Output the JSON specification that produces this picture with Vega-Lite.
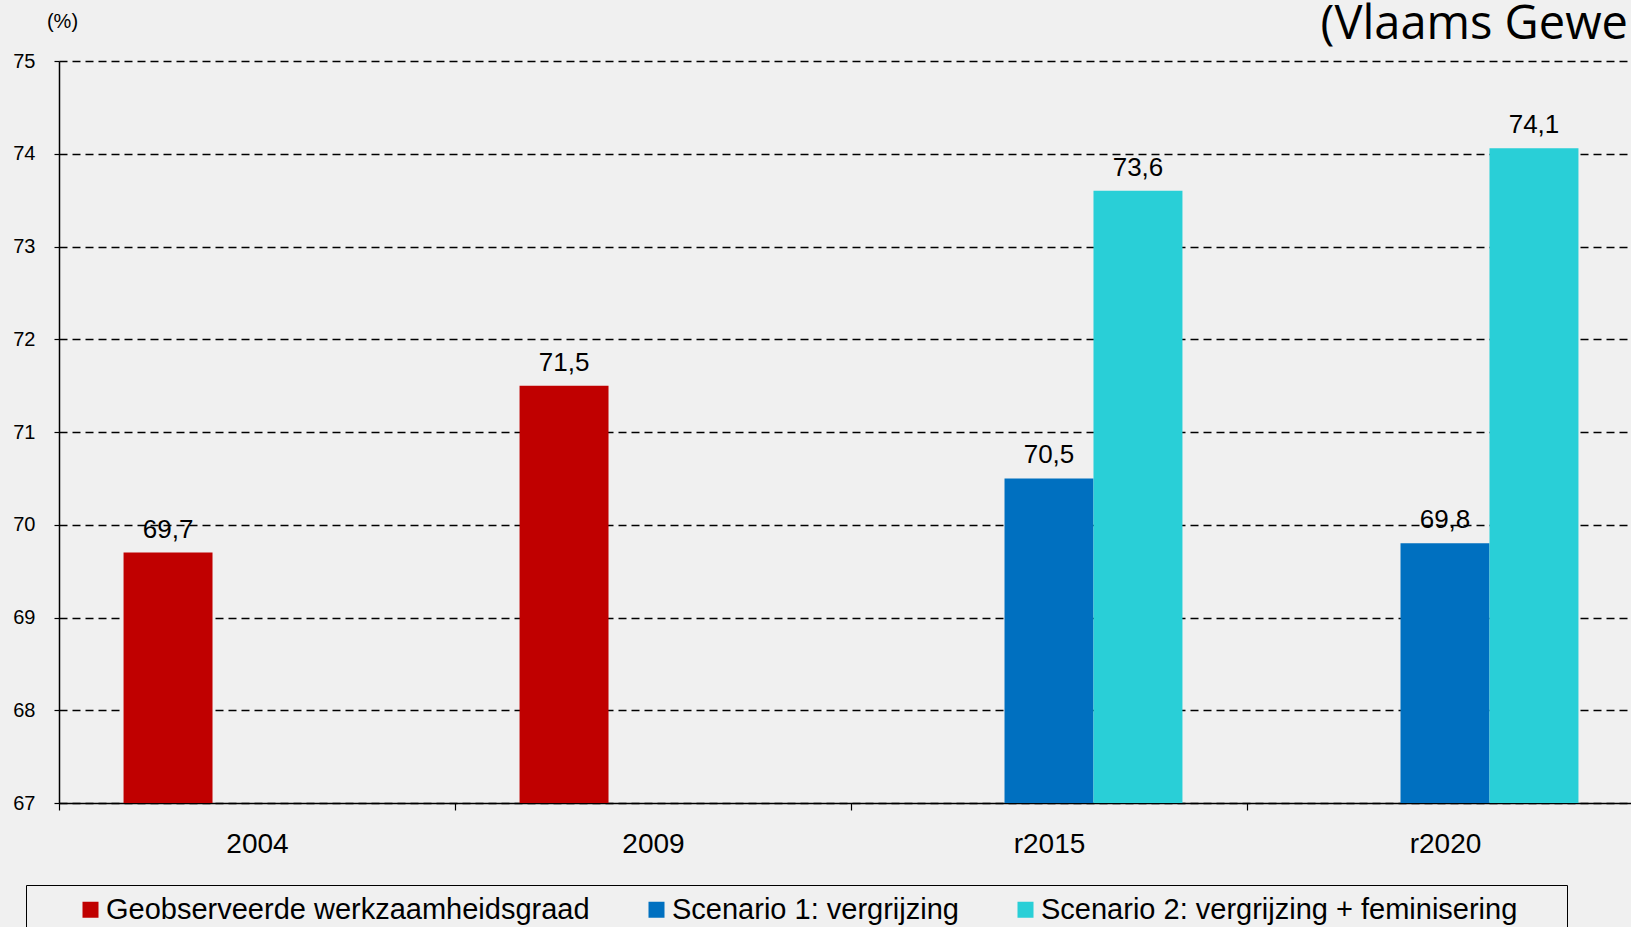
{
  "$schema": "https://vega.github.io/schema/vega-lite/v6.json",
  "autosize": "none",
  "padding": {"left": 59, "top": 61, "right": 0, "bottom": 124},
  "width": 1572,
  "height": 742,
  "background": "#f0f0f0",
  "title": {
    "text": "(Vlaams Gewe",
    "anchor": "end",
    "frame": "group",
    "font": "Open Sans",
    "fontSize": 47,
    "fontWeight": "normal",
    "color": "#000000",
    "baseline": "alphabetic",
    "offset": 0,
    "dy": 75,
    "dx": -3
  },
  "data": {
    "values": [
      {"jaar": "2004", "reeks": "Geobserveerde werkzaamheidsgraad", "waarde": 69.7},
      {"jaar": "2009", "reeks": "Geobserveerde werkzaamheidsgraad", "waarde": 71.5},
      {"jaar": "r2015", "reeks": "Scenario 1: vergrijzing", "waarde": 70.5},
      {"jaar": "r2015", "reeks": "Scenario 2: vergrijzing + feminisering", "waarde": 73.6},
      {"jaar": "r2020", "reeks": "Scenario 1: vergrijzing", "waarde": 69.8},
      {"jaar": "r2020", "reeks": "Scenario 2: vergrijzing + feminisering", "waarde": 74.06}
    ]
  },
  "encoding": {
    "x": {
      "field": "jaar",
      "type": "nominal",
      "sort": ["2004", "2009", "r2015", "r2020"],
      "scale": {"range": [0, 1584], "paddingInner": 0.326, "paddingOuter": 0.163},
      "axis": {
        "title": null,
        "labelAngle": 0,
        "labelFont": "Liberation Sans",
        "labelFontSize": 28,
        "labelColor": "#000000",
        "labelPadding": 20,
        "tickSize": 7,
        "tickColor": "#000000",
        "tickWidth": 1.2,
        "tickOffset": -198,
        "labelOffset": 198,
        "domainColor": "#000000",
        "domainWidth": 1.5,
        "grid": false
      }
    },
    "xOffset": {
      "field": "reeks",
      "type": "nominal",
      "sort": ["Geobserveerde werkzaamheidsgraad", "Scenario 1: vergrijzing", "Scenario 2: vergrijzing + feminisering"],
      "scale": {"paddingInner": 0, "paddingOuter": 0}
    },
    "y": {
      "field": "waarde",
      "type": "quantitative",
      "scale": {"domain": [67, 75], "nice": false, "zero": false},
      "axis": {
        "values": [67, 68, 69, 70, 71, 72, 73, 74, 75],
        "title": "(%)",
        "titleAngle": 0,
        "titleX": 3,
        "titleY": -40,
        "titleAlign": "center",
        "titleBaseline": "middle",
        "titleFont": "Liberation Sans",
        "titleFontSize": 20,
        "titleFontWeight": "normal",
        "titleColor": "#000000",
        "labelFont": "Liberation Sans",
        "labelFontSize": 20,
        "labelColor": "#000000",
        "labelPadding": 19,
        "tickSize": 5,
        "tickColor": "#000000",
        "tickWidth": 1.2,
        "domainColor": "#000000",
        "domainWidth": 1.5,
        "grid": true,
        "gridColor": "#000000",
        "gridDash": [8, 5],
        "gridWidth": 1.3
      }
    }
  },
  "layer": [
    {
      "mark": {"type": "bar"},
      "encoding": {
        "y2": {"datum": 67},
        "color": {
          "field": "reeks",
          "type": "nominal",
          "scale": {
            "domain": ["Geobserveerde werkzaamheidsgraad", "Scenario 1: vergrijzing", "Scenario 2: vergrijzing + feminisering"],
            "range": ["#c00000", "#0070c0", "#29cfd7"]
          },
          "legend": {
            "title": "\u00a0",
            "titleOrient": "right",
            "titlePadding": 40,
            "titleFontSize": 10,
            "orient": "none",
            "legendX": -33,
            "legendY": 824,
            "direction": "horizontal",
            "columns": 3,
            "symbolType": "square",
            "symbolSize": 256,
            "symbolStrokeWidth": 0,
            "symbolOffset": 40,
            "labelOffset": 1,
            "columnPadding": 12,
            "labelFont": "Liberation Sans",
            "labelFontSize": 29,
            "labelColor": "#000000",
            "labelLimit": 1000,
            "padding": 10,
            "strokeColor": "#000000"
          }
        }
      }
    },
    {
      "mark": {"type": "text", "baseline": "alphabetic", "dy": -15, "font": "Liberation Sans", "fontSize": 26, "color": "#000000"},
      "encoding": {
        "text": {"field": "waarde", "type": "quantitative", "format": ".1f"}
      }
    }
  ],
  "config": {
    "view": {"stroke": null},
    "locale": {"number": {"decimal": ",", "thousands": ".", "grouping": [3], "currency": ["€", ""]}}
  }
}
